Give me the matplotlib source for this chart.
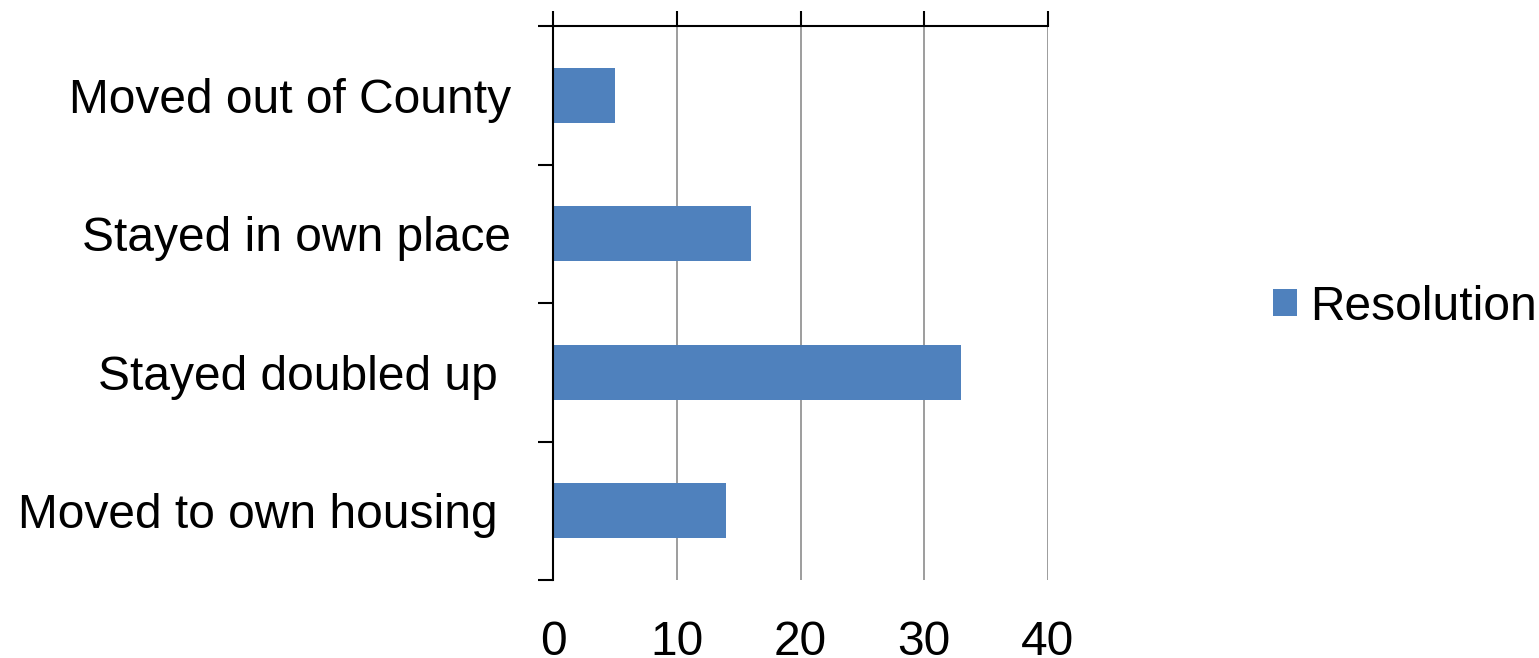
import matplotlib
matplotlib.use("Agg")
import matplotlib.pyplot as plt
from matplotlib.patches import Patch

categories = ["Moved out of County", "Stayed in own place", "Stayed doubled up ", "Moved to own housing "]
values = [5, 16, 33, 14]
series_name = "Resolution"
xticks = [0, 10, 20, 30, 40]

plt.rcParams['font.family'] = ['Liberation Sans', 'DejaVu Sans']
W, H = 1539, 658
fig = plt.figure(figsize=(W / 100, H / 100), dpi=100)
ax = fig.add_axes([553 / W, 1 - 580 / H, (1048 - 553) / W, (580 - 26) / H])

FS = 34.5
color = "#4F81BD"
ypos = list(range(len(categories)))
ax.barh(ypos, values, height=0.4, color=color, zorder=3)
ax.set_ylim(len(categories) - 0.5, -0.5)
ax.set_xlim(0, 40)
ax.set_xticks(xticks)
ax.set_xticklabels([str(t) for t in xticks])
ax.set_yticks([y for y in ypos])
ax.set_yticklabels(categories)
ax.set_yticks([y - 0.5 for y in range(len(categories) + 1)], minor=True)

ax.tick_params(axis='x', top=True, bottom=False, labeltop=False, labelbottom=True,
               direction='out', length=10.5, width=1.5, color='black', labelsize=FS, pad=18)
ax.tick_params(axis='y', which='major', left=False, labelsize=FS, pad=27)
ax.tick_params(axis='y', which='minor', left=True, direction='out', length=10.5, width=1.5, color='black')

for s in ['bottom', 'right']:
    ax.spines[s].set_visible(False)
for s in ['top', 'left']:
    ax.spines[s].set_color('black')
    ax.spines[s].set_linewidth(1.5)
    ax.spines[s].set_zorder(5)

ax.grid(axis='x', color='#8C8C8C', linewidth=1.2, zorder=1)
ax.set_axisbelow(True)

fig.legend(handles=[Patch(facecolor=color, label=series_name)], loc='center left',
           bbox_to_anchor=(1273 / W, 1 - 307 / H), frameon=False, fontsize=FS,
           handlelength=0.5, handleheight=0.5, handletextpad=0.27, borderpad=0,
           borderaxespad=0)

fig.savefig("out.png", dpi=100, facecolor='white')
